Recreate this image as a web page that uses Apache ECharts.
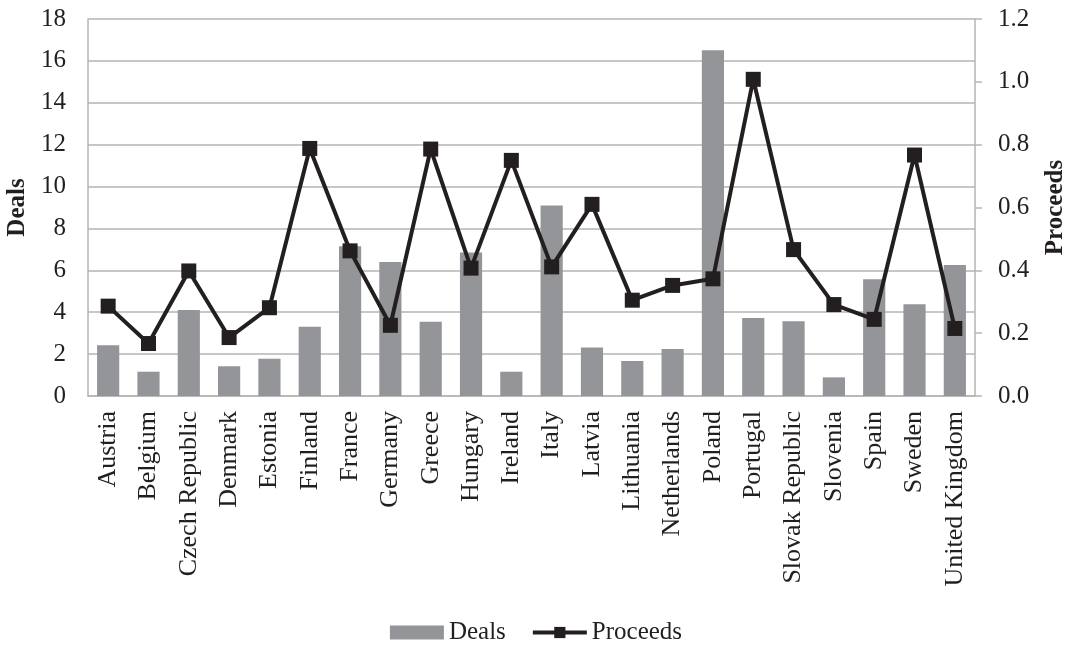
<!DOCTYPE html>
<html>
<head>
<meta charset="utf-8">
<script src="https://cdn.jsdelivr.net/npm/echarts@6/dist/echarts.min.js"></script>
<style>
  html, body { margin: 0; padding: 0; background: #fff; }
  #chart { width: 1072px; height: 646px; }
</style>
</head>
<body>
<div id="chart"></div>
<script>
// 国家
const countries = ["Austria", "Belgium", "Czech Republic", "Denmark", "Estonia", "Finland",
  "France", "Germany", "Greece", "Hungary", "Ireland", "Italy", "Latvia", "Lithuania",
  "Netherlands", "Poland", "Portugal", "Slovak Republic", "Slovenia", "Spain", "Sweden",
  "United Kingdom"];
// 交易数（左轴）
const deals = [2.42, 1.16, 4.11, 1.42, 1.78, 3.31, 7.15, 6.40, 3.54, 6.85, 1.16,
  9.09, 2.31, 1.67, 2.25, 16.51, 3.73, 3.57, 0.89, 5.57, 4.38, 6.26];
// 收益（右轴）
const proceeds = [0.286, 0.167, 0.398, 0.186, 0.281, 0.788, 0.462, 0.225, 0.786, 0.407, 0.750,
  0.411, 0.610, 0.305, 0.352, 0.373, 1.008, 0.466, 0.291, 0.244, 0.767, 0.215];

const font = "'Liberation Serif', 'Times New Roman', serif";
const gridColor = "#b5b5b5";
const textColor = "#231f20";

let mychart = echarts.init(document.getElementById("chart"));
mychart.setOption({
  animation: false,
  textStyle: { fontFamily: font },
  grid: { left: 88, right: 97, top: 19, bottom: 250, outerBoundsMode: "none" },
  legend: {
    bottom: -4,
    left: "center",
    itemGap: 25,
    itemWidth: 54,
    itemHeight: 14,
    textStyle: { fontFamily: font, fontSize: 25, color: textColor },
    data: [
      { name: "Deals", icon: "rect", itemStyle: { color: "#939598" } },
      { name: "Proceeds", lineStyle: { width: 4, color: textColor } }
    ]
  },
  xAxis: {
    type: "category",
    data: countries,
    axisLine: { lineStyle: { color: gridColor, width: 1.5 } },
    axisTick: { show: false },
    axisLabel: {
      interval: 0,
      rotate: 90,
      margin: 15,
      fontFamily: font,
      fontSize: 26,
      color: textColor
    }
  },
  yAxis: [
    {
      type: "value",
      min: 0,
      max: 18,
      interval: 2,
      name: "Deals",
      nameLocation: "middle",
      nameGap: 56,
      nameTextStyle: { fontFamily: font, fontSize: 25, fontWeight: "bold", color: textColor },
      axisLine: { show: true, lineStyle: { color: gridColor, width: 1.5 } },
      axisTick: { show: false },
      axisLabel: { fontFamily: font, fontSize: 25, color: textColor, margin: 22 },
      splitLine: { lineStyle: { color: gridColor, width: 1.5 } }
    },
    {
      type: "value",
      min: 0,
      max: 1.2,
      interval: 0.2,
      name: "Proceeds",
      nameLocation: "middle",
      nameGap: 68,
      nameTextStyle: { fontFamily: font, fontSize: 25, fontWeight: "bold", color: textColor },
      axisLine: { show: true, lineStyle: { color: gridColor, width: 1.5 } },
      axisTick: { show: true, length: 7, lineStyle: { color: gridColor, width: 1.5 } },
      axisLabel: {
        fontFamily: font, fontSize: 25, color: textColor, margin: 23,
        formatter: v => v.toFixed(1)
      },
      splitLine: { show: false }
    }
  ],
  series: [
    {
      name: "Deals",
      type: "bar",
      data: deals,
      yAxisIndex: 0,
      barWidth: "55%",
      itemStyle: { color: "#939598" }
    },
    {
      name: "Proceeds",
      type: "line",
      data: proceeds,
      yAxisIndex: 1,
      symbol: "rect",
      symbolSize: 15,
      lineStyle: { color: textColor, width: 4 },
      itemStyle: { color: textColor }
    }
  ]
});
</script>
</body>
</html>
